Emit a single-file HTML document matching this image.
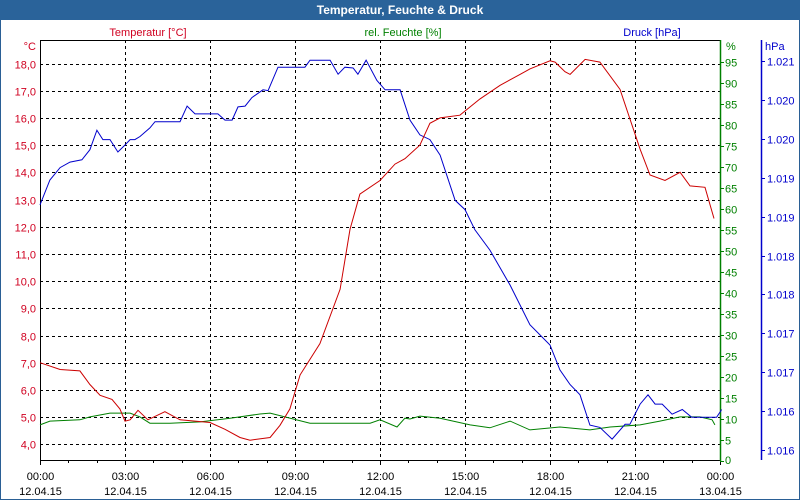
<!DOCTYPE html>
<html><head><meta charset="utf-8"><style>
body{margin:0;background:#fff;}
svg{display:block;font-family:"Liberation Sans",sans-serif;}
</style></head><body>
<svg id="chart" width="800" height="500" xmlns="http://www.w3.org/2000/svg">
<rect x="0" y="0" width="800" height="500" fill="#fff"/>
<rect x="0.5" y="0.5" width="799" height="499" fill="none" stroke="#2a5f95"/>
<rect x="0" y="0" width="800" height="20" fill="#2a639a"/>
<text x="400" y="14" text-anchor="middle" font-size="12" font-weight="bold" fill="#fff">Temperatur, Feuchte &amp; Druck</text>
<text x="148" y="36" text-anchor="middle" font-size="11" fill="#d00020">Temperatur [°C]</text>
<text x="403" y="36" text-anchor="middle" font-size="11" fill="#008000">rel. Feuchte [%]</text>
<text x="652" y="36" text-anchor="middle" font-size="11" fill="#0000cc">Druck [hPa]</text>
<text x="36" y="50" text-anchor="end" font-size="11" fill="#d00020">°C</text>
<text x="726" y="50" font-size="11" fill="#008000">%</text>
<text x="765" y="50" font-size="11" fill="#0000cc">hPa</text>
<g id="grid"></g>
<g id="axes"></g>
<g id="series"></g>
</svg>
<script>
const timeLabels=["00:00","03:00","06:00","09:00","12:00","15:00","18:00","21:00","00:00"];
const dateLabels=["12.04.15","12.04.15","12.04.15","12.04.15","12.04.15","12.04.15","12.04.15","12.04.15","13.04.15"];
const tempTicks=[18,17,16,15,14,13,12,11,10,9,8,7,6,5,4];
const humTicks=[0,5,10,15,20,25,30,35,40,45,50,55,60,65,70,75,80,85,90,95];
const presTicks=[1021.0,1020.5,1020.0,1019.5,1019.0,1018.5,1018.0,1017.5,1017.0,1016.5,1016.0];
const presTickLabels=["1.021","1.020","1.020","1.019","1.019","1.018","1.018","1.017","1.017","1.016","1.016"];
const tempHours=[0,0.71,1.41,1.76,2.12,2.54,2.82,3.0,3.18,3.46,3.81,4.41,4.94,6.0,6.53,7.06,7.41,8.12,8.47,8.82,9.18,9.88,10.59,10.94,11.29,12.0,12.53,12.88,13.41,13.76,14.12,14.82,15.53,16.24,16.94,17.29,18.0,18.18,18.53,18.71,19.24,19.76,20.47,21.18,21.53,22.06,22.59,22.94,23.47,23.79];
const tempVals=[7.0,6.75,6.7,6.2,5.8,5.65,5.3,4.85,4.9,5.25,4.9,5.2,4.9,4.8,4.55,4.25,4.15,4.25,4.7,5.3,6.55,7.7,9.7,11.9,13.2,13.7,14.3,14.5,15.0,15.8,16.0,16.1,16.7,17.2,17.6,17.8,18.1,18.05,17.7,17.6,18.15,18.05,17.05,14.85,13.9,13.7,14.0,13.5,13.45,12.3,11.5].slice(0,50);
const humHours=[0,0.35,1.41,1.76,2.47,3.18,3.53,3.88,4.59,5.65,6.71,7.76,8.12,9.53,11.65,12.0,12.6,12.88,13.06,13.41,14.12,15.18,15.88,16.59,17.29,18.35,19.41,20.12,21.18,21.88,22.59,23.29,23.72,23.82];
const humVals=[8.6,9.5,9.8,10.5,11.4,11.4,10.5,9.0,9.0,9.3,10.2,11.2,11.4,9.0,9.0,9.8,8.1,10.2,10.0,10.7,10.2,8.6,7.9,9.5,7.4,8.1,7.4,8.1,8.6,9.5,10.5,10.5,9.8,8.6];
const presHours=[0,0.35,0.71,1.06,1.48,1.76,2.01,2.22,2.47,2.75,3.0,3.18,3.35,3.53,3.88,4.06,4.94,5.19,5.47,6.28,6.53,6.78,6.99,7.24,7.48,7.87,8.05,8.4,9.35,9.53,10.24,10.52,10.76,11.05,11.22,11.51,11.89,12.18,12.71,13.06,13.41,13.76,14.12,14.65,15.0,15.35,15.88,16.59,17.29,18.0,18.35,18.71,19.06,19.41,19.76,20.19,20.65,20.82,21.18,21.46,21.71,21.96,22.31,22.67,23.0,23.53,23.88,24.06];
const presVals=[1019.15,1019.47,1019.63,1019.7,1019.73,1019.86,1020.11,1019.99,1019.99,1019.83,1019.92,1019.99,1019.99,1020.03,1020.14,1020.22,1020.22,1020.42,1020.32,1020.32,1020.24,1020.24,1020.41,1020.42,1020.53,1020.63,1020.62,1020.92,1020.92,1021.01,1021.01,1020.83,1020.92,1020.91,1020.83,1021.01,1020.75,1020.63,1020.63,1020.24,1020.05,1019.99,1019.79,1019.21,1019.09,1018.83,1018.57,1018.12,1017.61,1017.35,1017.03,1016.84,1016.71,1016.32,1016.29,1016.14,1016.33,1016.33,1016.59,1016.71,1016.59,1016.59,1016.46,1016.52,1016.42,1016.42,1016.42,1016.52];
const NS="http://www.w3.org/2000/svg";
const L=40,R=720,T=40,B=460;
function xS(h){return L+h*(R-L)/24;}
function yT(v){return 63.5+(18-v)*27.2;}
function yH(v){return 461-v*4.2;}
function yP(v){return 61+(1021-v)*77.8;}
function mk(tag,attrs,parent){const e=document.createElementNS(NS,tag);for(const k in attrs)e.setAttribute(k,attrs[k]);parent.appendChild(e);return e;}
const grid=document.getElementById('grid'),axes=document.getElementById('axes'),series=document.getElementById('series');
tempTicks.forEach(v=>{
 const y=Math.round(yT(v))+0.5;
 const gl=mk('line',{x1:L,x2:R,y1:y,y2:y,stroke:'#000','stroke-dasharray':'3,3'},grid);
 
 
 const t=mk('text',{x:36,y:y+4,'text-anchor':'end','font-size':11,fill:'#d00020'},axes);
 t.textContent=v.toFixed(1).replace('.',',');
 
 
});
timeLabels.forEach((lab,i)=>{
 const x=Math.round(xS(i*3))+0.5;
 if(i>0&&i<8){const gl=mk('line',{x1:x,x2:x,y1:T,y2:B,stroke:'#000','stroke-dasharray':'3,3'},grid);
 
 }
 const t=mk('text',{x:x,y:480,'text-anchor':'middle','font-size':11,fill:'#000'},axes);
 t.textContent=lab;
 
 
 const d=mk('text',{x:x,y:495,'text-anchor':'middle','font-size':11,fill:'#000'},axes);
 d.textContent=dateLabels[i];
 
 
});
for(let h=0;h<=24;h++){const x=Math.round(xS(h))+0.5;const tk=mk('line',{x1:x,x2:x,y1:B,y2:B+(h%3==0?5:3),stroke:'#000'},axes);
 
 }
const lax=mk('line',{x1:L+0.5,x2:L+0.5,y1:T,y2:B,stroke:'#000'},axes);


const bax=mk('line',{x1:L,x2:R,y1:B+0.5,y2:B+0.5,stroke:'#000'},axes);


const tax=mk('line',{x1:L,x2:R,y1:T+0.5,y2:T+0.5,stroke:'#000'},axes);


const gax=mk('line',{x1:R+0.5,x2:R+0.5,y1:T,y2:B+1,stroke:'#008000','stroke-width':1.5},axes);


humTicks.forEach(v=>{const y=Math.round(yH(v))+0.5;
 const tk=mk('line',{x1:R,x2:R+4,y1:y,y2:y,stroke:'#008000'},axes);
 
 
 const t=mk('text',{x:725,y:Math.min(y+4,464),'font-size':11,fill:'#008000'},axes);
 t.textContent=v;
 
 });
const pax=mk('line',{x1:761.5,x2:761.5,y1:T,y2:B,stroke:'#0000cc','stroke-width':1.5},axes);


presTicks.forEach((v,i)=>{const y=Math.round(yP(v))+0.5;
 const tk=mk('line',{x1:761,x2:765,y1:y,y2:y,stroke:'#0000cc'},axes);
 
 
 const t=mk('text',{x:767,y:y+4,'font-size':11,fill:'#0000cc'},axes);
 t.textContent=presTickLabels[i];
 
 });
function line(hs,vs,yf,col,name){const n=Math.min(hs.length,vs.length);const pts=hs.slice(0,n).map((h,i)=>xS(h).toFixed(1)+','+yf(vs[i]).toFixed(1)).join(' ');
 const p=mk('polyline',{points:pts,fill:'none',stroke:col,'stroke-width':1},series);
 
 }
line(humHours,humVals,yH,'#008000','humidity-line');
line(presHours,presVals,yP,'#0000cc','pressure-line');
line(tempHours,tempVals,yT,'#cc0000','temperature-line');
</script>
</body></html>
